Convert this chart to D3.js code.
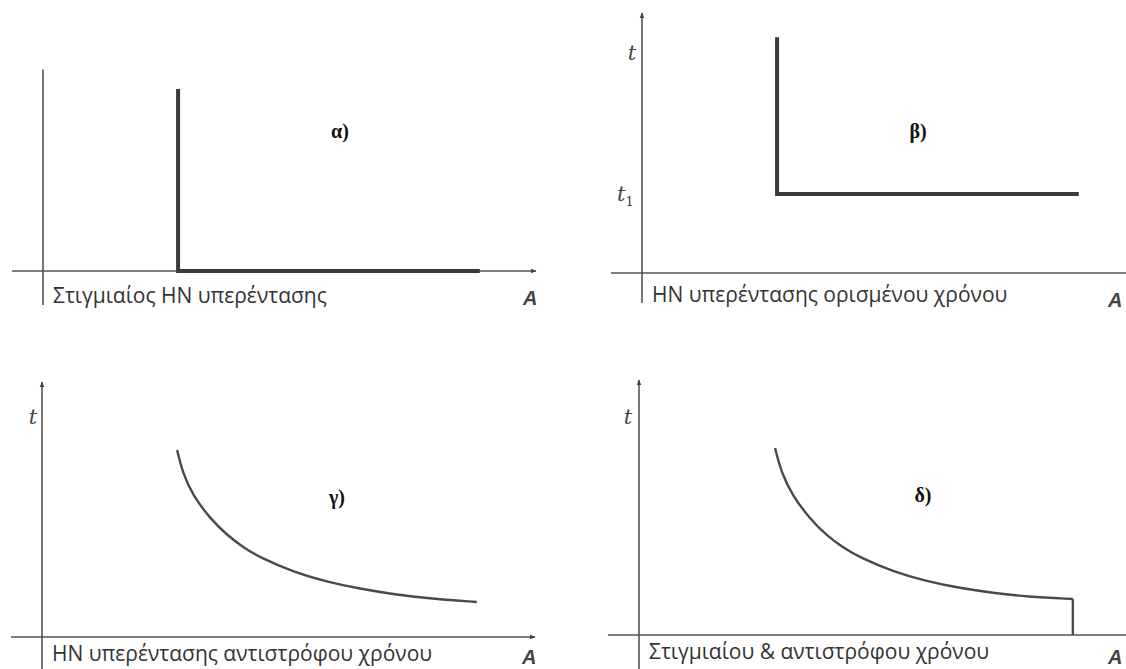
<!DOCTYPE html>
<html>
<head>
<meta charset="utf-8">
<script src="https://cdn.jsdelivr.net/npm/d3@7"></script>
<style>
  body { margin: 0; background: #fff; }
</style>
</head>
<body>
<div id="chart"></div>
<script>
// values, in axis units (0..100 along each axis)
const relayA = [{x: 27.4, y: 71.4}, {x: 27.4, y: 0}, {x: 88.6, y: 0}];
const relayB = [{x: 27.4, y: 92.5}, {x: 27.4, y: 31}, {x: 88.6, y: 31}];
const relayC = [
  {x: 27.4, y: 73.3}, {x: 28.6, y: 64.0}, {x: 30.6, y: 55.5}, {x: 34.1, y: 46.5},
  {x: 37.5, y: 40.0}, {x: 40.8, y: 35.2}, {x: 44.2, y: 31.2}, {x: 50.9, y: 25.6},
  {x: 57.8, y: 21.6}, {x: 64.5, y: 18.9}, {x: 71.2, y: 16.8}, {x: 78.1, y: 15.2},
  {x: 88.2, y: 13.7}
];
const relayD = [
  {x: 27.6, y: 73.3}, {x: 28.9, y: 63.5}, {x: 31.2, y: 54.5}, {x: 34.7, y: 45.5},
  {x: 38.1, y: 39.0}, {x: 41.4, y: 34.3}, {x: 44.8, y: 30.4}, {x: 51.5, y: 24.9},
  {x: 58.4, y: 21.0}, {x: 65.1, y: 18.4}, {x: 71.8, y: 16.5}, {x: 78.7, y: 15.0},
  {x: 88.0, y: 14.1}
];
const dropD = [{x: 88.0, y: 14.1}, {x: 88.0, y: 0}];

const captions = [
  'Στιγμιαίος HN υπερέντασης',
  'HN υπερέντασης ορισμένου χρόνου',
  'HN υπερέντασης αντιστρόφου χρόνου',
  'Στιγμιαίου & αντιστρόφου χρόνου'
];
const panelTags = ['α)', 'β)', 'γ)', 'δ)'];

const width = 1126, height = 669;

const svg = d3.select('#chart')
              .append('svg')
              .attr('width', width)
              .attr('height', height);

svg.append('defs').append('marker')
    .attr('id', 'arrow')
    .attr('viewBox', '0 0 10 10')
    .attr('refX', 9).attr('refY', 5)
    .attr('markerWidth', 6).attr('markerHeight', 6)
    .attr('markerUnits', 'userSpaceOnUse')
    .attr('orient', 'auto')
    .append('path')
    .attr('d', 'M0,1 L10,5 L0,9 Z')
    .style('fill', '#444');

// panel layouts: origin of the axes, how far the axes run
const panels = [
  {ox: 43,  oy: 271, yTop: 79,  yArrow: false, yBottom: 34, tag: [340, 138], capY: 303, aX: 523,  aY: 305, tLabel: null},
  {ox: 642, oy: 273, yTop: 102, yArrow: true,  yBottom: 30, tag: [918, 138], capY: 302, aX: 1108, aY: 307, tLabel: [632, 60], t1: true},
  {ox: 42,  oy: 637, yTop: 100, yArrow: true,  yBottom: 40, tag: [337, 504], capY: 661, aX: 522,  aY: 664, tLabel: [33, 424]},
  {ox: 639, oy: 635, yTop: 100, yArrow: true,  yBottom: 40, tag: [923, 502], capY: 659, aX: 1108, aY: 664, tLabel: [628, 424]}
];

const curves = [relayA, relayB, relayC, relayD];

panels.forEach((p, i) => {
  const g = svg.append('g');
  const x = d3.scaleLinear().domain([0, 100]).range([p.ox, p.ox + 493]);
  const y = d3.scaleLinear().domain([0, 100]).range([p.oy, p.oy - 255]);

  // x axis
  g.append('line')
    .attr('x1', x(-6.3)).attr('y1', y(0))
    .attr('x2', x(100)).attr('y2', y(0))
    .style('stroke', '#555').style('stroke-width', 1.6)
    .attr('marker-end', 'url(#arrow)');

  // y axis
  const ya = g.append('line')
    .attr('x1', x(0)).attr('y1', p.oy + p.yBottom)
    .attr('x2', x(0)).attr('y2', y(p.yTop))
    .style('stroke', '#555').style('stroke-width', 1.6);
  if (p.yArrow) ya.attr('marker-end', 'url(#arrow)');

  const line = d3.line().x(d => x(d.x)).y(d => y(d.y));
  const thick = i < 2;
  if (!thick) line.curve(d3.curveBasis);

  g.append('path')
    .datum(curves[i])
    .attr('d', line)
    .style('fill', 'none')
    .style('stroke', thick ? '#3a3a3a' : '#4a4a4a')
    .style('stroke-width', thick ? 4 : 2.4)
    .style('stroke-linejoin', 'miter');

  if (i === 3) {
    g.append('path')
      .datum(dropD)
      .attr('d', d3.line().x(d => x(d.x)).y(d => y(d.y)))
      .style('fill', 'none')
      .style('stroke', '#4a4a4a')
      .style('stroke-width', 2.4);
  }

  // caption under the x axis
  g.append('text')
    .attr('x', p.ox + 10)
    .attr('y', p.capY)
    .style('font-family', 'Open Sans')
    .style('font-size', '21px')
    .style('fill', '#333')
    .text(captions[i]);

  // axis name A
  g.append('text')
    .attr('x', p.aX)
    .attr('y', p.aY)
    .style('font-family', 'Liberation Sans')
    .style('font-style', 'italic')
    .style('font-weight', 'bold')
    .style('font-size', '20px')
    .style('fill', '#444')
    .text('A');

  // panel tag
  g.append('text')
    .attr('x', p.tag[0]).attr('y', p.tag[1])
    .style('text-anchor', 'middle')
    .style('font-family', 'Liberation Serif')
    .style('font-weight', 'bold')
    .style('font-size', '20px')
    .style('fill', '#111')
    .text(panelTags[i]);

  if (p.tLabel) {
    g.append('text')
      .attr('x', p.tLabel[0]).attr('y', p.tLabel[1])
      .style('text-anchor', 'middle')
      .style('font-family', 'DejaVu Serif')
      .style('font-style', 'italic')
      .style('font-size', '21px')
      .style('fill', '#444')
      .text('t');
  }
  if (p.t1) {
    const t1 = g.append('text')
      .attr('x', p.ox - 25).attr('y', y(31) + 7)
      .style('font-family', 'DejaVu Serif')
      .style('font-style', 'italic')
      .style('font-size', '21px')
      .style('fill', '#444');
    t1.append('tspan').text('t');
    t1.append('tspan')
      .attr('dy', 5)
      .style('font-style', 'normal')
      .style('font-size', '13px')
      .text('1');
  }
});
</script>
</body>
</html>
